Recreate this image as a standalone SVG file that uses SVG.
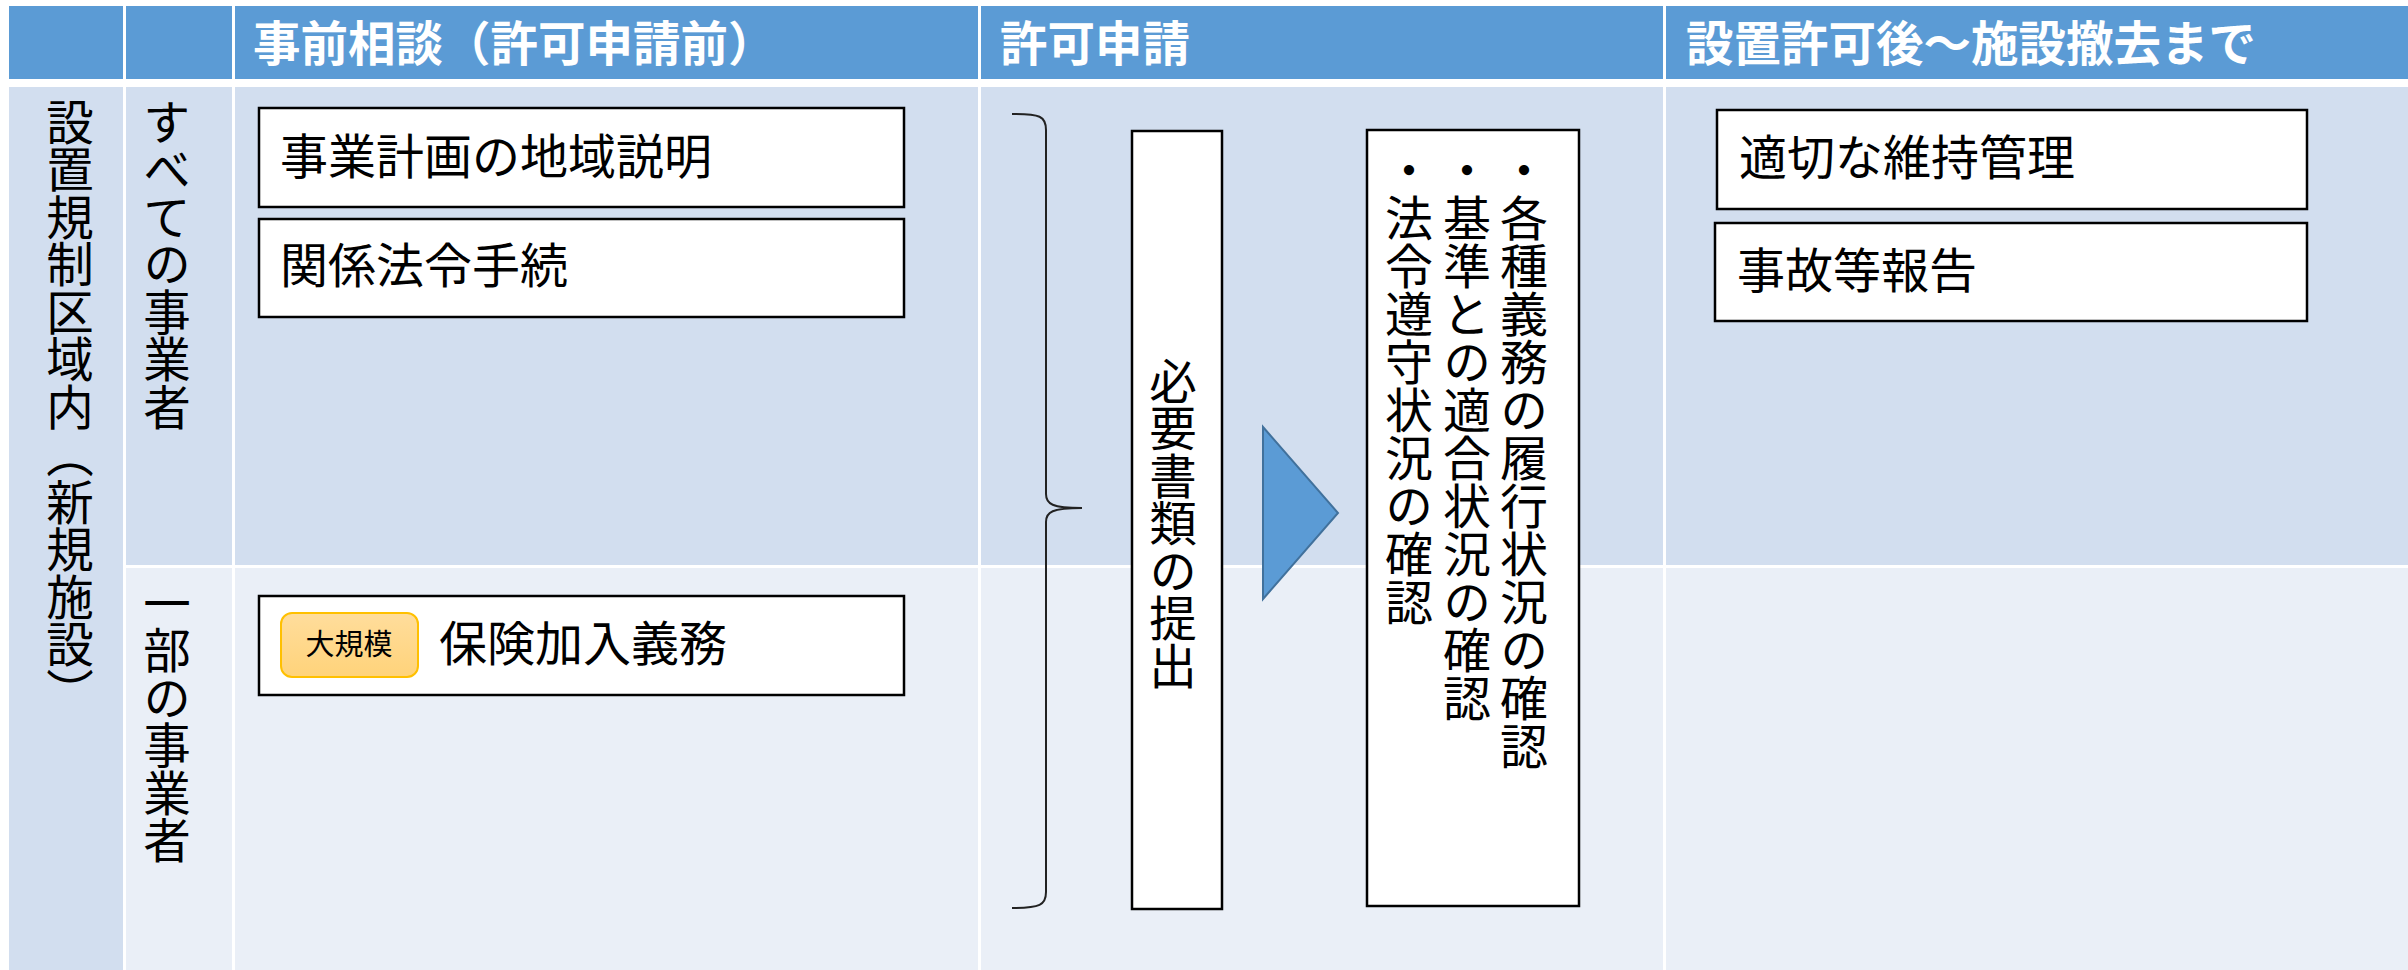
<svg xmlns="http://www.w3.org/2000/svg" width="2408" height="970" viewBox="0 0 2408 970">
<defs>
<style>
.hd{fill:#5B9BD5}
.r1{fill:#D2DEEF}
.r2{fill:#EAEFF7}
.ht{font-family:"Noto Sans CJK JP","Noto Sans",sans-serif;font-weight:bold;font-size:47.5px;fill:#FFFFFF}
.t{font-family:"Noto Sans CJK JP","Noto Sans",sans-serif;font-size:48px;fill:#000000}
.v{font-family:"Noto Sans CJK JP","Noto Sans",sans-serif;font-size:47.5px;fill:#000000;writing-mode:vertical-rl}
.v2{font-family:"Noto Sans CJK JP","Noto Sans",sans-serif;font-size:48px;fill:#000000;writing-mode:vertical-rl}
.box{fill:#FFFFFF;stroke:#000000;stroke-width:2.5}
</style>
<linearGradient id="badge" x1="0" y1="0" x2="0" y2="1">
<stop offset="0" stop-color="#FFDD9C"/>
<stop offset="1" stop-color="#FFD37A"/>
</linearGradient>
</defs>
<rect x="0" y="0" width="2408" height="970" fill="#FFFFFF"/>
<g id="table">
<rect class="hd" x="9" y="6" width="114" height="73"/>
<rect class="hd" x="126" y="6" width="106" height="73"/>
<rect class="hd" x="235" y="6" width="743" height="73"/>
<rect class="hd" x="981" y="6" width="682" height="73"/>
<rect class="hd" x="1666" y="6" width="742" height="73"/>
<rect class="r1" x="9" y="87" width="114" height="883"/>
<rect class="r1" x="126" y="87" width="106" height="478"/>
<rect class="r1" x="235" y="87" width="743" height="478"/>
<rect class="r1" x="981" y="87" width="682" height="478"/>
<rect class="r1" x="1666" y="87" width="742" height="478"/>
<rect class="r2" x="126" y="568" width="106" height="402"/>
<rect class="r2" x="235" y="568" width="743" height="402"/>
<rect class="r2" x="981" y="568" width="682" height="402"/>
<rect class="r2" x="1666" y="568" width="742" height="402"/>
<text class="ht" x="253" y="61">事前相談（許可申請前）</text>
<text class="ht" x="1000" y="61">許可申請</text>
<text class="ht" x="1686" y="61">設置許可後〜施設撤去まで</text>
<text class="v" x="70" y="98">設置規制区域内（新規施設）</text>
<text class="v" x="167" y="98">すべての事業者</text>
<text class="v" x="167" y="579">一部の事業者</text>
</g>
<g id="n-chiiki">
<rect class="box" x="259" y="108" width="645" height="99"/>
<text class="t" x="280" y="174">事業計画の地域説明</text>
</g>
<g id="n-hourei">
<rect class="box" x="259" y="219" width="645" height="98"/>
<text class="t" x="280" y="283">関係法令手続</text>
</g>
<g id="n-hoken">
<rect class="box" x="259" y="596" width="645" height="99"/>
<rect x="281" y="613" width="137" height="64" rx="11" ry="11" fill="url(#badge)" stroke="#FFC000" stroke-width="2"/>
<text x="349" y="655" text-anchor="middle" style="font-family:'Noto Sans CJK JP','Noto Sans',sans-serif;font-size:29px;fill:#000">大規模</text>
<text class="t" x="439" y="661">保険加入義務</text>
</g>
<g id="n-shorui">
<rect class="box" x="1132" y="131" width="90" height="778"/>
<text class="v" x="1173" y="357">必要書類の提出</text>
</g>
<g id="n-kakunin">
<rect class="box" x="1367" y="130" width="212" height="776"/>
<text class="v2" x="1524" y="146">・各種義務の履行状況の確認</text>
<text class="v2" x="1467" y="146">・基準との適合状況の確認</text>
<text class="v2" x="1409" y="146">・法令遵守状況の確認</text>
</g>
<g id="n-iji">
<rect class="box" x="1717" y="110" width="590" height="99"/>
<text class="t" x="1739" y="175">適切な維持管理</text>
</g>
<g id="n-jiko">
<rect class="box" x="1715" y="223" width="592" height="98"/>
<text class="t" x="1737" y="288">事故等報告</text>
</g>
<g id="connectors">
<path d="M1012,114 C1040,114 1046,116 1046,130 L1046,494 C1046,504 1052,508 1082,508 C1052,508 1046,512 1046,522 L1046,892 C1046,905 1040,908 1012,908" fill="none" stroke="#222222" stroke-width="2"/>
<polygon points="1263,427 1338,513 1263,599" fill="#5B9BD5" stroke="#41719C" stroke-width="2"/>
</g>
</svg>
